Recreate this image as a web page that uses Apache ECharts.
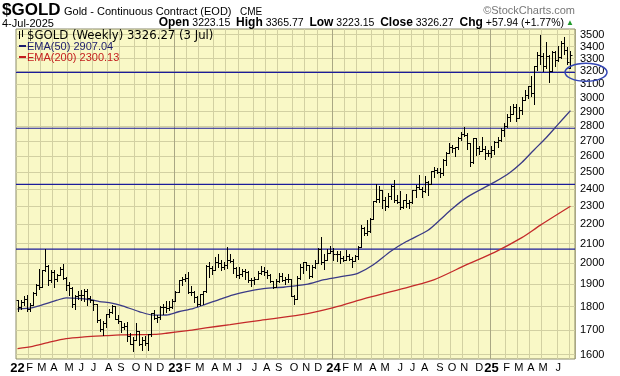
<!DOCTYPE html>
<html>
<head>
<meta charset="utf-8">
<script src="https://cdn.jsdelivr.net/npm/echarts@6/dist/echarts.min.js"></script>
<style>
  html, body { margin: 0; padding: 0; background: #fff; }
  #main { width: 620px; height: 376px; }
</style>
</head>
<body>
<div id="main"></div>
<script>
// weekly bars, first week ends 7 Jan 2022, last one is 3/4 Jul 2025
var firstWeek = '2022-01-07';
var weekCount = 183;

var opens = [
  1829,1797,1818,1835,1791,1808,1859,1898,1889,1966,1988,1921,1958,1925,1945,1974,1932,1896,1883,1811,
  1846,1853,1850,1871,1840,1827,1811,1742,1703,1727,1766,1775,1802,1747,1738,1712,1716,1675,1644,1660,
  1695,1644,1657,1645,1681,1771,1751,1754,1797,1797,1793,1798,
  1824,1865,1920,1926,1928,1865,1865,1842,1811,1855,1868,1989,1978,1969,2007,2004,1983,1990,2017,2011,
  1977,1946,1948,1961,1958,1921,1919,1925,1955,1962,1959,1943,1914,1889,1915,1940,1919,1924,1925,1849,
  1833,1932,1981,2006,1992,1940,1981,2002,2072,2005,2019,2053,
  2063,2045,2049,2029,2018,2039,2024,2013,2036,2083,2179,2156,2165,2230,2330,2344,2392,2337,2301,2360,
  2415,2334,2327,2294,2333,2321,2326,2391,2411,2400,2386,2443,2431,2507,2512,2503,2497,2578,2622,2658,
  2653,2656,2721,2747,2736,2685,2563,2715,2650,2633,2648,2622,
  2621,2640,2690,2702,2770,2800,2861,2883,2936,2858,2910,2984,3023,3084,3037,3238,3327,3319,3240,3325,
  3203,3357,3289,3310,3433,3369,3223.15
];
var highs = [
  1831,1829,1848,1853,1814,1865,1902,1974,1970,2070,1990,1966,1966,1949,1982,1998,1936,1909,1886,1850,
  1870,1874,1877,1879,1848,1829,1812,1745,1739,1767,1791,1807,1802,1765,1738,1730,1735,1688,1672,1730,
  1697,1670,1675,1683,1773,1786,1764,1804,1810,1824,1823,1833,
  1870,1922,1937,1949,1960,1891,1870,1847,1858,1870,1990,2009,1988,2032,2048,2015,2005,2081,2048,2022,
  1985,1983,1971,1971,1962,1928,1935,1965,1987,1982,1966,1947,1917,1924,1953,1952,1933,1947,1926,1853,
  1938,1997,2009,2009,1993,1994,2018,2075,2135,2047,2071,2088,
  2079,2062,2061,2036,2066,2049,2034,2042,2088,2195,2185,2223,2236,2330,2431,2417,2392,2353,2378,2422,
  2450,2364,2387,2337,2368,2336,2392,2424,2483,2412,2477,2445,2508,2531,2526,2523,2585,2626,2685,2672,
  2658,2722,2758,2790,2750,2687,2721,2721,2665,2726,2664,2638,
  2665,2697,2726,2786,2817,2882,2942,2955,2956,2930,3005,3057,3086,3167,3245,3357,3500,3350,3435,3327,
  3365,3366,3403,3446,3476,3397,3365.77
];
var lows = [
  1782,1788,1805,1781,1780,1806,1850,1878,1889,1962,1895,1910,1890,1915,1942,1927,1872,1850,1797,1787,
  1834,1829,1825,1807,1822,1785,1732,1697,1680,1711,1754,1770,1745,1728,1691,1702,1654,1641,1615,1659,
  1640,1617,1638,1617,1673,1747,1731,1745,1767,1774,1785,1795,
  1824,1865,1896,1917,1861,1853,1819,1804,1805,1810,1867,1935,1949,1969,1981,1969,1974,1978,2009,1952,
  1937,1932,1940,1925,1910,1893,1902,1923,1950,1942,1929,1912,1885,1888,1912,1915,1901,1913,1846,1810,
  1832,1927,1953,1970,1932,1933,1976,2000,1995,1973,2016,2052,
  2016,2013,2002,2010,2016,2015,1985,2011,2024,2083,2146,2146,2160,2228,2325,2324,2291,2277,2298,2343,
  2325,2320,2286,2288,2295,2293,2319,2353,2398,2353,2381,2364,2427,2470,2496,2471,2485,2547,2618,2624,
  2603,2646,2708,2730,2643,2536,2560,2605,2613,2633,2583,2602,
  2596,2614,2656,2700,2730,2790,2833,2880,2832,2858,2880,2982,3000,3015,2957,3208,3260,3202,3228,3120,
  3200,3245,3280,3302,3340,3255,3223.15
];
var closes = [
  1797,1818,1835,1791,1808,1859,1898,1889,1966,1988,1921,1958,1925,1945,1974,1932,1896,1883,1811,1846,
  1853,1850,1871,1840,1827,1811,1742,1703,1727,1766,1775,1802,1747,1738,1712,1716,1675,1644,1660,1695,
  1644,1657,1645,1681,1771,1751,1754,1797,1797,1793,1798,1824,
  1865,1920,1926,1928,1865,1865,1842,1811,1855,1868,1989,1978,1969,2007,2004,1983,1990,2017,2011,1977,
  1946,1948,1961,1958,1921,1919,1925,1955,1962,1959,1943,1914,1889,1915,1940,1919,1924,1925,1849,1833,
  1932,1981,2006,1992,1940,1981,2002,2072,2005,2019,2053,2063,
  2045,2049,2029,2018,2039,2024,2013,2036,2083,2179,2156,2165,2230,2330,2344,2392,2337,2301,2360,2415,
  2334,2327,2294,2333,2321,2326,2391,2411,2400,2386,2443,2431,2507,2512,2503,2497,2578,2622,2658,2653,
  2656,2721,2747,2736,2685,2563,2715,2650,2633,2648,2622,2621,
  2640,2690,2702,2770,2800,2861,2883,2936,2858,2910,2984,3023,3084,3037,3238,3327,3319,3240,3325,3203,
  3357,3289,3310,3433,3369,3274,3326.27
];

// moving averages: [week index, value]
var ema50 = [
  [0,1789],[5,1795],[10,1815],[13,1828],[16,1838],[20,1836],[24,1830],[27,1822],[31,1815],[34,1805],
  [40,1778],[45,1762],[49,1763],[53,1777],[58,1792],[62,1810],[67,1834],[71,1852],[75,1866],[81,1880],
  [88,1888],[95,1900],[101,1922],[108,1940],[112,1952],[117,1992],[123,2062],[128,2110],[135,2168],
  [139,2224],[143,2285],[148,2352],[157,2440],[162,2497],[166,2560],[170,2640],[174,2720],[178,2812],[182,2907]
];
var ema200 = [
  [0,1624],[5,1633],[10,1648],[16,1664],[22,1671],[29,1676],[34,1679],[40,1680],[45,1681],[49,1686],
  [56,1697],[62,1708],[70,1722],[80,1740],[93,1763],[104,1795],[115,1838],[129,1889],[137,1921],
  [148,1995],[157,2055],[166,2130],[172,2195],[182,2300]
];

var priceTicks = [1600,1700,1800,1900,2000,2100,2200,2300,2400,2500,2600,2700,2800,2900,3000,3100,3200,3300,3400,3500];
var levelLines = [3192, 2784, 2427, 2071];
var circledLevel = 3200;
var monthLetters = ['J','F','M','A','M','J','J','A','S','O','N','D'];

var sans = "'Liberation Sans',Arial,sans-serif";
var levelColor = '#1c1c9a';

// category labels: one per week plus an empty slot on the right
var weeks = [];
var t0 = Date.parse(firstWeek + 'T00:00:00Z');
for (var i = 0; i <= weekCount; i++) {
  weeks.push(new Date(t0 + i * 7 * 86400000).toISOString().slice(0, 10));
}
function monthOf(i) { return +weeks[i].slice(5, 7); }
function isMonthStart(i) {
  return i === 0 || monthOf(i) !== monthOf(i - 1);
}
function isYearStart(i) {
  return i > 0 && monthOf(i) === 1 && monthOf(i - 1) === 12;
}

var bars = [];
for (var k = 0; k < weekCount; k++) {
  bars.push([k, opens[k], highs[k], lows[k], closes[k]]);
}

function renderBar(params, api) {
  var x = api.value(0);
  var o = api.coord([x, api.value(1)]);
  var h = api.coord([x, api.value(2)]);
  var l = api.coord([x, api.value(3)]);
  var c = api.coord([x, api.value(4)]);
  var px = Math.round(h[0]) + 0.5;
  var st = { stroke: '#000', lineWidth: 1 };
  return {
    type: 'group',
    children: [
      { type: 'line', shape: { x1: px, y1: Math.round(h[1]), x2: px, y2: Math.round(l[1]) + 1 }, style: st },
      { type: 'line', shape: { x1: px - 2, y1: Math.round(o[1]) + 0.5, x2: px, y2: Math.round(o[1]) + 0.5 }, style: st },
      { type: 'line', shape: { x1: px, y1: Math.round(c[1]) + 0.5, x2: px + 2, y2: Math.round(c[1]) + 0.5 }, style: st }
    ]
  };
}

// horizontal level drawn across the whole plot at the y of its price
function renderLevel(params, api) {
  var y = api.coord([0, api.value(1)])[1];
  var cs = params.coordSys;
  return {
    type: 'line',
    shape: { x1: cs.x, y1: y, x2: cs.x + cs.width, y2: y },
    style: { stroke: levelColor, lineWidth: 1.2 }
  };
}

var chart = echarts.init(document.getElementById('main'));

var option = {
  animation: false,
  backgroundColor: '#ffffff',
  grid: {
    left: 16, right: 45, top: 29, bottom: 17,
    show: true, backgroundColor: '#f9f8c6', borderColor: '#8a8a6a', borderWidth: 1
  },
  xAxis: [{
    type: 'category',
    data: weeks,
    boundaryGap: true,
    axisLine: { show: false, onZero: false },
    axisTick: { show: false },
    axisLabel: {
      interval: function (i) { return isMonthStart(i) && i < weekCount - 1; },
      formatter: function (v) {
        var m = +v.slice(5, 7);
        if (m === 1) return '{y|' + v.slice(2, 4) + '}';
        return monthLetters[m - 1];
      },
      margin: 3,
      color: '#000',
      fontSize: 11,
      fontFamily: sans,
      rich: { y: { fontWeight: 'bold', fontSize: 13, fontFamily: sans, color: '#000' } }
    },
    splitLine: { show: true, interval: function (i) { return isMonthStart(i) && i > 0; }, lineStyle: { color: '#d2d0a2', width: 1 } }
  }, {
    type: 'category',
    data: weeks,
    boundaryGap: true,
    position: 'bottom',
    axisLine: { show: false, onZero: false },
    axisTick: { show: false },
    axisLabel: { show: false },
    splitLine: { show: true, interval: function (i) { return isYearStart(i); }, lineStyle: { color: '#a9a784', width: 1 } }
  }],
  yAxis: {
    type: 'log',
    logBase: 10,
    min: 1583,
    max: 3549,
    position: 'right',
    axisLine: { show: false },
    axisTick: { show: false, customValues: priceTicks },
    axisLabel: {
      customValues: priceTicks,
      formatter: function (v) { return String(Math.round(v)); },
      color: '#000', fontSize: 11, margin: 5, fontFamily: sans
    },
    splitLine: { show: true, lineStyle: { color: '#d2d0a2', width: 1 } }
  },
  series: [
    {
      name: 'levels',
      type: 'custom',
      renderItem: renderLevel,
      data: levelLines.map(function (v) { return [0, v]; }),
      encode: { x: 0, y: 1 },
      silent: true,
      z: 1
    },
    {
      name: 'EMA(200)',
      type: 'line',
      data: ema200,
      showSymbol: false,
      smooth: 0.3,
      connectNulls: true,
      lineStyle: { color: '#c42a2a', width: 1.3 },
      z: 2
    },
    {
      name: 'EMA(50)',
      type: 'line',
      data: ema50,
      showSymbol: false,
      smooth: 0.3,
      connectNulls: true,
      lineStyle: { color: '#3a3a86', width: 1.3 },
      z: 2
    },
    {
      name: '$GOLD',
      type: 'custom',
      renderItem: renderBar,
      data: bars,
      encode: { x: 0, y: [1, 2, 3, 4] },
      z: 3
    }
  ],
  graphic: {
    elements: [
      { type: 'text', z: 100, left: 2, top: 2, style: { text: '$GOLD', font: 'bold 17px ' + sans, fill: '#000' } },
      { type: 'text', z: 100, left: 64, top: 6, style: { text: 'Gold - Continuous Contract (EOD)', font: '11px ' + sans, fill: '#000' } },
      { type: 'text', z: 100, left: 240, top: 7, style: { text: 'CME', font: '10px ' + sans, fill: '#000' } },
      { type: 'text', z: 100, right: 45, top: 5, style: { text: '\u00a9StockCharts.com', font: '11px ' + sans, fill: '#777' } },
      { type: 'text', z: 100, left: 2, top: 18, style: { text: '4-Jul-2025', font: '11px ' + sans, fill: '#000' } },
      {
        type: 'text', z: 100, right: 56, top: 17,
        style: {
          text: '{b|Open} 3223.15  {b|High} 3365.77  {b|Low} 3223.15  {b|Close} 3326.27  {b|Chg} +57.94 (+1.77%)',
          font: '10.5px ' + sans, fill: '#000',
          rich: { b: { fontWeight: 'bold', fontSize: 12, fontFamily: sans } }
        }
      },
      { type: 'text', z: 100, left: 566, top: 19, style: { text: '\u25b2', font: '8px ' + sans, fill: '#1f9a2a' } },
      // legend inside the plot
      { type: 'line', z: 100, shape: { x1: 19.5, y1: 31, x2: 19.5, y2: 39 }, style: { stroke: '#000', lineWidth: 1 } },
      { type: 'line', z: 100, shape: { x1: 22.5, y1: 30, x2: 22.5, y2: 37 }, style: { stroke: '#000', lineWidth: 1 } },
      { type: 'text', z: 100, left: 27, top: 30, style: { text: '$GOLD (Weekly) 3326.27 (3 Jul)', font: '11.7px DejaVu Sans', fill: '#000' } },
      { type: 'rect', z: 100, shape: { x: 19, y: 45, width: 7, height: 2 }, style: { fill: '#1c1c6c' } },
      { type: 'text', z: 100, left: 27, top: 41, style: { text: 'EMA(50) 2907.04', font: '11px ' + sans, fill: '#1c1c6c' } },
      { type: 'rect', z: 100, shape: { x: 19, y: 56, width: 7, height: 2 }, style: { fill: '#c41e1e' } },
      { type: 'text', z: 100, left: 27, top: 52, style: { text: 'EMA(200) 2300.13', font: '11px ' + sans, fill: '#c41e1e' } }
    ]
  }
};

chart.setOption(option);

// blue ellipse around the 3200 label on the price axis
var cy = chart.convertToPixel({ yAxisIndex: 0 }, circledLevel);
var gridRight = 620 - 45;
chart.setOption({
  graphic: {
    elements: [{
      id: 'ring', type: 'ellipse', silent: true, z: 101,
      shape: { cx: gridRight + 11, cy: cy + 1, rx: 21, ry: 9 },
      style: { fill: 'none', stroke: '#3446b4', lineWidth: 1.5 }
    }]
  }
});
</script>
</body>
</html>
